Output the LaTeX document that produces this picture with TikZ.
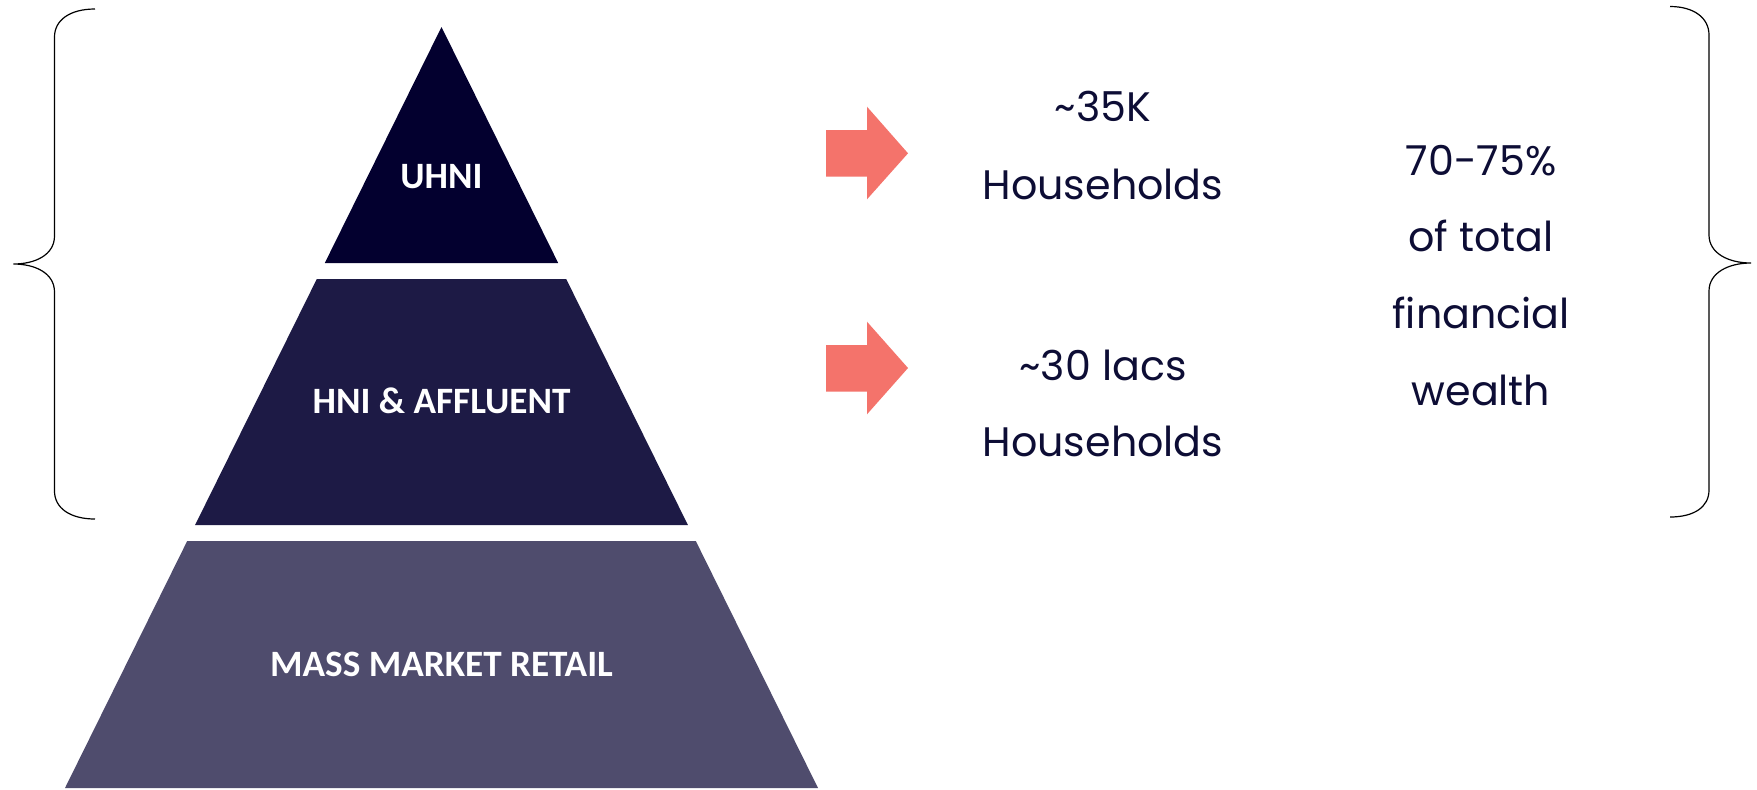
\documentclass[tikz,border=0pt]{standalone}
\usepackage{fontspec}
\setmainfont{Poppins}
\newfontfamily\labelfont{Carlito}
\definecolor{uhnicol}{HTML}{03002F}
\definecolor{hnicol}{HTML}{1D1A45}
\definecolor{masscol}{HTML}{4F4C6D}
\definecolor{arrowcol}{HTML}{F4736B}
\definecolor{textcol}{HTML}{0D0D35}
\tikzset{
  layerlabel/.style={text=white, anchor=base, inner sep=0pt, font=\labelfont\bfseries\fontsize{18.6}{20}\selectfont},
  infotext/.style={text=textcol, anchor=base, inner sep=0pt, font=\fontsize{20.6}{24}\selectfont},
  bracket/.style={black, line width=0.6pt}
}
\begin{document}
\begin{tikzpicture}[x=0.5pt,y=-0.5pt]
  \useasboundingbox[fill=white] (0,0) rectangle (1757,789);
  % pyramid
  \fill[uhnicol] (441.5,27) -- (558.2,263) -- (324.8,263) -- cycle;
  \fill[hnicol] (316.8,279) -- (566.2,279) -- (687.9,525) -- (195.1,525) -- cycle;
  \fill[masscol] (187.2,541) -- (695.8,541) -- (818,788) -- (65,788) -- cycle;
  \node[layerlabel] (uhni) at (441.5,188.3) {UHNI};
  \node[layerlabel] (hni) at (441.5,413.2) {HNI \& AFFLUENT};
  \node[layerlabel] (mass) at (441.5,676) {MASS MARKET RETAIL};
  % arrows
  \fill[arrowcol] (826,130) -- (867,130) -- (867,106.7) -- (908,153.3) -- (867,199.3) -- (867,176.7) -- (826,176.7) -- cycle;
  \fill[arrowcol] (826,345) -- (867,345) -- (867,321.7) -- (908,368) -- (867,414.3) -- (867,391.7) -- (826,391.7) -- cycle;
  % households
  \node[infotext] (k35) at (1103,121.7) {\textasciitilde 35K};
  \node[infotext] (hh1) at (1103,199.3) {Households};
  \node[infotext] (lacs) at (1103,380) {\textasciitilde 30 lacs};
  \node[infotext] (hh2) at (1103,456.7) {Households};
  % wealth share
  \node[infotext] (pct) at (1481,175) {70-75\%};
  \node[infotext] (oftotal) at (1481,251.7) {of total};
  \node[infotext] (fin) at (1481,328.3) {financial};
  \node[infotext] (wealth) at (1481,405) {wealth};
  % braces
  \draw[bracket] (95,9) .. controls (70,9) and (54.5,20) .. (54.5,37) -- (54.5,236)
    .. controls (54.5,255) and (35,264) .. (13.5,264)
    .. controls (35,264) and (54.5,273) .. (54.5,292) -- (54.5,491)
    .. controls (54.5,508) and (70,519) .. (95,519);
  \draw[bracket] (1670,6.5) .. controls (1694,6.5) and (1709,18) .. (1709,35) -- (1709,235)
    .. controls (1709,253) and (1728,263) .. (1751,263)
    .. controls (1728,263) and (1709,273) .. (1709,291) -- (1709,490)
    .. controls (1709,507) and (1694,517) .. (1670,517);
\end{tikzpicture}
\end{document}
